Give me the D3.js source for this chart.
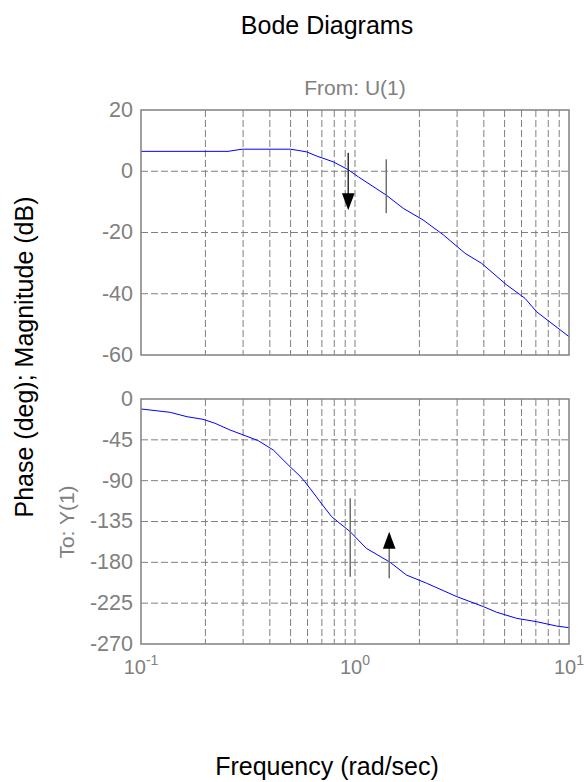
<!doctype html>
<html>
<head>
<meta charset="utf-8"/>
<title>Bode Diagrams</title>
<script src="https://d3js.org/d3.v7.min.js"></script>
<style>
 body { margin: 0; background: #fff; }
 text { font-family: Arial, "Liberation Sans", sans-serif; }
</style>
</head>
<body>
<script>
// magnitude curve (rad/sec, dB)
var magFreq = [0.1, 0.255, 0.297, 0.5, 0.553, 0.596, 0.66, 0.79, 0.93, 1.04, 1.40, 1.68, 2.08, 2.59, 3.27, 3.91, 5.11, 6.23, 7.06, 10];
var magDb   = [6.5, 6.5, 7.2, 7.2, 6.7, 6.3, 5.0, 3.1, 0.5, -1.9, -7.8, -12.1, -15.9, -20.8, -26.8, -30.1, -37.1, -41.5, -45.9, -54.0];

// phase curve (rad/sec, deg)
var phFreq = [0.1, 0.137, 0.164, 0.195, 0.222, 0.261, 0.301, 0.353, 0.415, 0.497, 0.553, 0.583, 0.66, 0.686, 0.778, 0.949, 1.13, 1.46, 1.74, 2.16, 2.99, 3.98, 4.59, 5.69, 7.06, 8.75, 10];
var phDeg  = [-11, -14.7, -19.5, -22.4, -26.8, -34.2, -39.7, -45.9, -56.2, -74.6, -84.9, -91.1, -107.7, -113.2, -129.7, -146.2, -164.6, -180, -194, -203, -217.8, -228.8, -235, -241.7, -245.4, -250.2, -252];

// margin markers: [freq, from, to]
var magArrow = [0.93, 6.0, -12.7];
var magBar   = [1.40, 3.9, -13.7];
var phBar    = [0.95, -109.4, -195.8];
var phArrow  = [1.445, -197.6, -146.2];

var magTicks = [20, 0, -20, -40, -60];
var phTicks  = [0, -45, -90, -135, -180, -225, -270];
var xTicks   = [0.1, 1, 10];
var xTickExp = ["-1", "0", "1"];
var gridFreq = [0.2, 0.3, 0.4, 0.5, 0.6, 0.7, 0.8, 0.9, 1, 2, 3, 4, 5, 6, 7, 8, 9];

var gray = "#808080";
var svg = d3.select("body").append("svg")
  .attr("width", 584).attr("height", 782);

var x = d3.scaleLog().domain([0.1, 10]).range([141, 569]);
var yMag = d3.scaleLinear().domain([-60, 20]).range([355, 110]);
var yPh  = d3.scaleLinear().domain([-270, 0]).range([644, 399]);

function panel(y, ticks, freq, vals) {
  var top = y.range()[1], bot = y.range()[0];
  var g = svg.append("g");

  // vertical grid
  g.append("g").selectAll("line").data(gridFreq).enter().append("line")
    .attr("x1", d => x(d)).attr("x2", d => x(d))
    .attr("y1", top).attr("y2", bot)
    .attr("stroke", gray).attr("stroke-width", 1).attr("stroke-dasharray", "7,3");
  // horizontal grid
  g.append("g").selectAll("line").data(ticks.slice(1, -1)).enter().append("line")
    .attr("x1", x.range()[0]).attr("x2", x.range()[1])
    .attr("y1", d => y(d)).attr("y2", d => y(d))
    .attr("stroke", gray).attr("stroke-width", 1).attr("stroke-dasharray", "7,3");

  // y axis labels
  var ax = g.append("g").attr("transform", "translate(141,0)")
    .call(d3.axisLeft(y).tickValues(ticks).tickSize(0).tickPadding(8).tickFormat(d => String(d)));
  ax.select(".domain").remove();
  ax.selectAll("text").attr("fill", gray).attr("font-size", "21.5px")
    .attr("font-family", "Arial, 'Liberation Sans', sans-serif").attr("dy", "0.3em");

  // curve
  var line = d3.line().x(d => x(d[0])).y(d => y(d[1]));
  g.append("path").datum(d3.zip(freq, vals))
    .attr("d", line).attr("fill", "none").attr("stroke", "#0000ff").attr("stroke-width", 1);

  // frame
  g.append("rect").attr("x", x.range()[0]).attr("y", top)
    .attr("width", x.range()[1] - x.range()[0]).attr("height", bot - top)
    .attr("fill", "none").attr("stroke", gray).attr("stroke-width", 1.5);
  return g;
}

var gm = panel(yMag, magTicks, magFreq, magDb);
var gp = panel(yPh, phTicks, phFreq, phDeg);

function bar(g, y, m, col) {
  g.append("line").attr("x1", x(m[0])).attr("x2", x(m[0]))
    .attr("y1", y(m[1])).attr("y2", y(m[2]))
    .attr("stroke", col).attr("stroke-width", 1.5);
}
function arrow(g, y, m, col) {
  var dir = y(m[2]) > y(m[1]) ? 1 : -1;
  var tipY = y(m[2]), xx = x(m[0]);
  g.append("line").attr("x1", xx).attr("x2", xx)
    .attr("y1", y(m[1])).attr("y2", tipY - dir * 12)
    .attr("stroke", col).attr("stroke-width", 1.5);
  g.append("path")
    .attr("d", "M" + (xx - 6.3) + "," + (tipY - dir * 17) + "L" + (xx + 6.3) + "," + (tipY - dir * 17) + "L" + xx + "," + tipY + "Z")
    .attr("fill", "#000");
}
bar(gm, yMag, magBar, "#707070");
arrow(gm, yMag, magArrow, "#333");
bar(gp, yPh, phBar, "#707070");
arrow(gp, yPh, phArrow, "#707070");

// x tick labels with exponents
var xl = svg.append("g").selectAll("text").data(xTicks).enter().append("text")
  .attr("x", d => x(d)).attr("y", 674).attr("text-anchor", "middle")
  .attr("fill", gray).attr("font-size", "20px");
xl.append("tspan").text("10");
xl.append("tspan").attr("dy", -9).attr("font-size", "14px").text((d, i) => xTickExp[i]);

// texts
svg.append("text").attr("x", 327).attr("y", 34).attr("text-anchor", "middle")
  .attr("font-size", "25px").attr("fill", "#000").text("Bode Diagrams");
svg.append("text").attr("x", 327).attr("y", 775).attr("text-anchor", "middle")
  .attr("font-size", "25px").attr("fill", "#000").text("Frequency (rad/sec)");
svg.append("text").attr("transform", "translate(33,357) rotate(-90)").attr("text-anchor", "middle")
  .attr("font-size", "25px").attr("fill", "#000").text("Phase (deg); Magnitude (dB)");
svg.append("text").attr("x", 355).attr("y", 95).attr("text-anchor", "middle")
  .attr("font-size", "21px").attr("fill", gray).text("From: U(1)");
svg.append("text").attr("transform", "translate(74,522) rotate(-90)").attr("text-anchor", "middle")
  .attr("font-size", "21px").attr("fill", gray).text("To: Y(1)");
</script>
</body>
</html>
